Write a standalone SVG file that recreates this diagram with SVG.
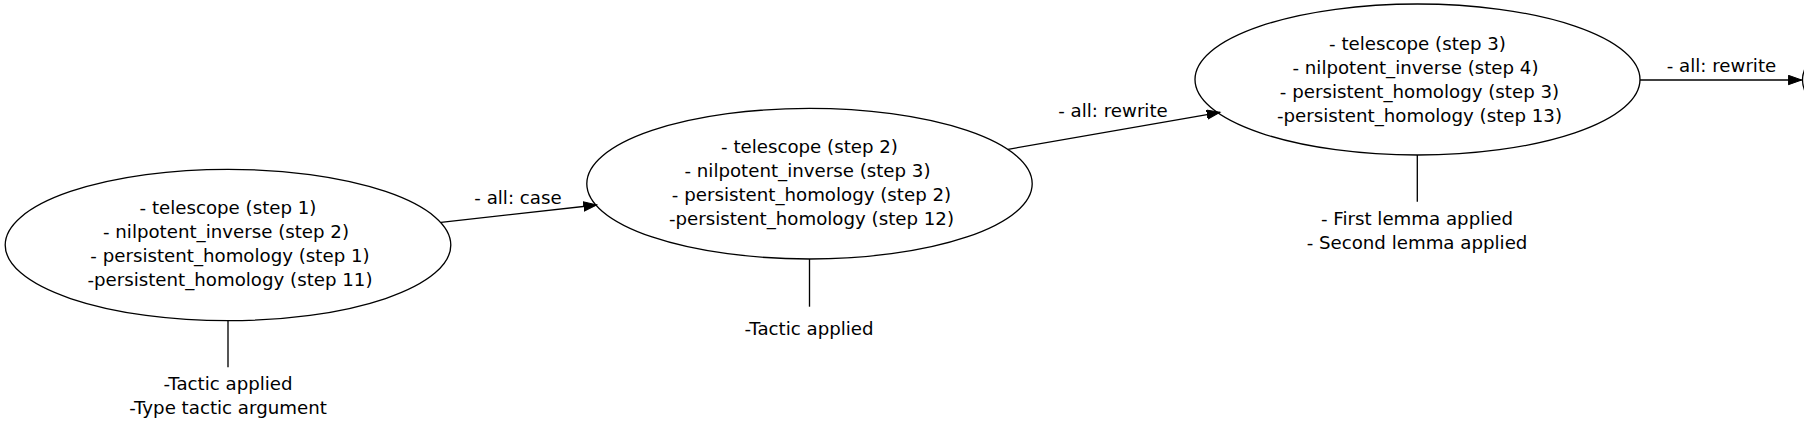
<svg xmlns="http://www.w3.org/2000/svg" width="1804" height="432" viewBox="0 0 1804 432">
<defs>
<marker id="arrow" markerWidth="15" markerHeight="11" refX="13.3" refY="5" orient="auto" markerUnits="userSpaceOnUse">
<path d="M0,0.3 L13.3,5 L0,9.7 z" fill="#000" stroke="#000" stroke-width="1"/>
</marker>
<style>
.node ellipse{fill:none;stroke:#000;stroke-width:1.33}
text{font-family:"DejaVu Sans",Verdana,sans-serif;font-size:18.2px;fill:#000;text-anchor:middle}
.edge{stroke:#000;stroke-width:1.33;fill:none}
.stem{stroke:#000;stroke-width:1.33;fill:none}
</style>
</defs>
<rect x="0" y="0" width="1804" height="432" fill="#fff"/>

<g id="connectors">
  <line class="edge" x1="441" y1="222.3" x2="596.7" y2="205" marker-end="url(#arrow)"/>
  <text x="518" y="204">- all: case</text>
  <line class="edge" x1="1008" y1="149.3" x2="1220" y2="112.3" marker-end="url(#arrow)"/>
  <text x="1113" y="116.7">- all: rewrite</text>
  <line class="edge" x1="1640" y1="80" x2="1801.7" y2="80" marker-end="url(#arrow)"/>
  <text x="1721.5" y="72.3">- all: rewrite</text>
  <line class="stem" x1="228" y1="320.7" x2="228" y2="367.3"/>
  <line class="stem" x1="809.5" y1="259" x2="809.5" y2="306.7"/>
  <line class="stem" x1="1417.3" y1="155" x2="1417.3" y2="201.7"/>
</g>

<g id="node1" class="node">
  <ellipse cx="228" cy="245" rx="222.8" ry="75.7"/>
  <text x="228" y="214">- telescope (step 1)</text>
  <text x="226" y="238">- nilpotent_inverse (step 2)</text>
  <text x="230" y="262">- persistent_homology (step 1)</text>
  <text x="230" y="286">-persistent_homology (step 11)</text>
</g>

<g id="node2" class="node">
  <ellipse cx="809.5" cy="183.7" rx="222.7" ry="75.3"/>
  <text x="809.5" y="153">- telescope (step 2)</text>
  <text x="807.5" y="177">- nilpotent_inverse (step 3)</text>
  <text x="811.5" y="201">- persistent_homology (step 2)</text>
  <text x="811.5" y="225">-persistent_homology (step 12)</text>
</g>

<g id="node3" class="node">
  <ellipse cx="1417.5" cy="79.5" rx="222.5" ry="75.5"/>
  <text x="1417.5" y="50">- telescope (step 3)</text>
  <text x="1415.5" y="74">- nilpotent_inverse (step 4)</text>
  <text x="1419.5" y="98">- persistent_homology (step 3)</text>
  <text x="1419.5" y="122">-persistent_homology (step 13)</text>
</g>

<g id="node4" class="node">
  <ellipse cx="2025" cy="80" rx="222.5" ry="75.5"/>
</g>

<g id="note1">
  <text x="228" y="390">-Tactic applied</text>
  <text x="228" y="413.5">-Type tactic argument</text>
</g>

<g id="note2">
  <text x="809" y="335">-Tactic applied</text>
</g>

<g id="note3">
  <text x="1417" y="225">- First lemma applied</text>
  <text x="1417" y="248.5">- Second lemma applied</text>
</g>
</svg>
